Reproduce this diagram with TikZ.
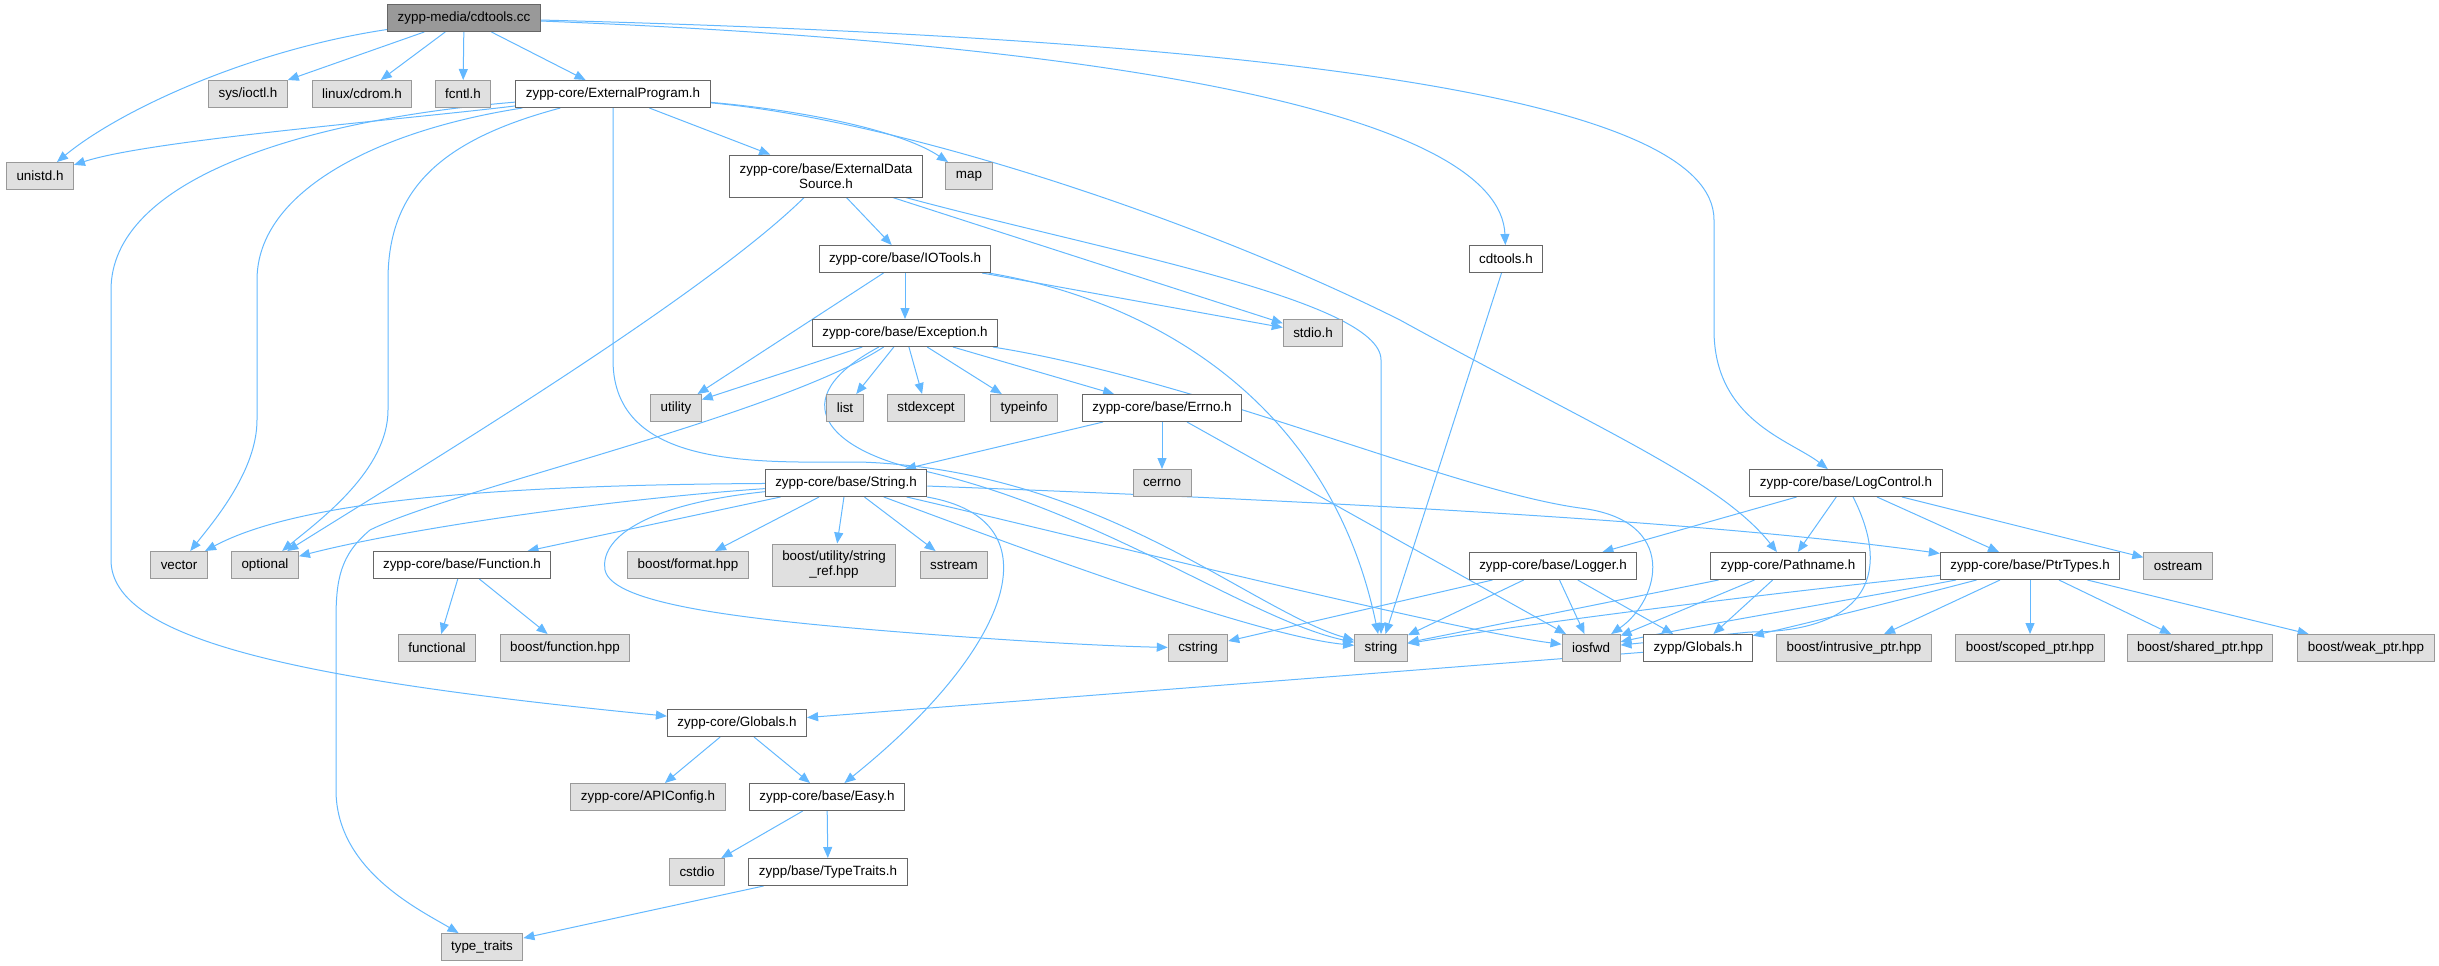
\documentclass[tikz,border=0pt]{standalone}
\usepackage{fontspec}
\setmainfont{Liberation Sans}
\usepackage{tikz}
\usetikzlibrary{arrows.meta,backgrounds}
\definecolor{linkblue}{HTML}{63B8FF}
\definecolor{rootbg}{HTML}{999999}
\definecolor{sysbg}{HTML}{E0E0E0}
\definecolor{sysline}{HTML}{999999}
\definecolor{fileline}{HTML}{666666}
\tikzset{
  box/.style={rectangle, line width=0.5pt, inner xsep=5pt, inner ysep=1pt,
    minimum height=13.5pt, align=center, font=\fontsize{6.7}{7.5}\selectfont},
  root/.style={box, fill=rootbg, draw=fileline},
  file/.style={box, fill=white, draw=fileline},
  sys/.style={box, fill=sysbg, draw=sysline},
  tall/.style={minimum height=21pt},
  dep/.style={draw=linkblue, line width=0.5pt, -{Triangle[length=5.5pt, width=4.5pt]}},
}

\begin{document}
\begin{tikzpicture}[x=0.5pt, y=-0.5pt]
  \useasboundingbox (0,0) rectangle (2439,965);

  % headers, row by row
  \node[root] (cc) at (464,18) {zypp-media/cdtools.cc};
  \node[sys] (ioctl) at (248,94) {sys/ioctl.h};
  \node[sys] (cdrom) at (362,94) {linux/cdrom.h};
  \node[sys] (fcntl) at (463,94) {fcntl.h};
  \node[file] (extprog) at (613,94) {zypp-core/ExternalProgram.h};
  \node[sys] (unistd) at (40,176) {unistd.h};
  \node[file,tall] (extdata) at (826,176) {zypp-core/base/ExternalData\\Source.h};
  \node[sys] (map) at (969,176) {map};
  \node[file] (iotools) at (905,259) {zypp-core/base/IOTools.h};
  \node[file] (cdtoolsh) at (1506,259) {cdtools.h};
  \node[file] (exception) at (905,333) {zypp-core/base/Exception.h};
  \node[sys] (stdio) at (1313,333) {stdio.h};
  \node[sys] (utility) at (676,408) {utility};
  \node[sys] (list) at (845,408) {list};
  \node[sys] (stdexcept) at (926,408) {stdexcept};
  \node[sys] (typeinfo) at (1024,408) {typeinfo};
  \node[file] (errno) at (1162,408) {zypp-core/base/Errno.h};
  \node[file] (stringh) at (846,483) {zypp-core/base/String.h};
  \node[sys] (cerrno) at (1162,483) {cerrno};
  \node[file] (logcontrol) at (1846,483) {zypp-core/base/LogControl.h};
  \node[sys] (vector) at (179,565) {vector};
  \node[sys] (optional) at (265,565) {optional};
  \node[file] (function) at (462,565) {zypp-core/base/Function.h};
  \node[sys] (format) at (688,565) {boost/format.hpp};
  \node[sys,tall] (stringref) at (834,565) {boost/utility/string\\\_ref.hpp};
  \node[sys] (sstream) at (954,565) {sstream};
  \node[file] (logger) at (1553,566) {zypp-core/base/Logger.h};
  \node[file] (pathname) at (1788,566) {zypp-core/Pathname.h};
  \node[file] (ptrtypes) at (2030,566) {zypp-core/base/PtrTypes.h};
  \node[sys] (ostream) at (2178,566) {ostream};
  \node[sys] (functional) at (437,648) {functional};
  \node[sys] (boostfunc) at (565,648) {boost/function.hpp};
  \node[sys] (cstring) at (1198,648) {cstring};
  \node[sys] (string) at (1381,648) {string};
  \node[sys] (iosfwd) at (1591,648) {iosfwd};
  \node[file] (zglobals) at (1698,648) {zypp/Globals.h};
  \node[sys] (intrusive) at (1854,648) {boost/intrusive\_ptr.hpp};
  \node[sys] (scoped) at (2030,648) {boost/scoped\_ptr.hpp};
  \node[sys] (shared) at (2200,648) {boost/shared\_ptr.hpp};
  \node[sys] (weak) at (2366,648) {boost/weak\_ptr.hpp};
  \node[file] (coreglobals) at (737,723) {zypp-core/Globals.h};
  \node[sys] (apiconfig) at (648,797) {zypp-core/APIConfig.h};
  \node[file] (easy) at (827,797) {zypp-core/base/Easy.h};
  \node[sys] (cstdio) at (697,872) {cstdio};
  \node[file] (typetraits) at (828,872) {zypp/base/TypeTraits.h};
  \node[sys] (typetr) at (482,947) {type\_traits};

  \begin{scope}[on background layer]
  % cdtools.cc
  \draw[dep] (cc) .. controls (250,50) and (120,110) .. (unistd);
  \draw[dep] (cc) -- (ioctl);
  \draw[dep] (cc) -- (cdrom);
  \draw[dep] (cc) -- (fcntl);
  \draw[dep] (cc) -- (extprog);
  \draw[dep] (cc) .. controls (1150,45) and (1500,120) .. (cdtoolsh);
  \draw[dep] (cc) .. controls (1300,40) and (1714,100) .. (1714,220) -- (1714,330)
    .. controls (1714,420) and (1790,440) .. (logcontrol);

  % ExternalProgram.h
  \draw[dep] (extprog) .. controls (400,120) and (150,140) .. (unistd);
  \draw[dep] (extprog) .. controls (300,120) and (111,180) .. (111,290) -- (111,560)
    .. controls (111,640) and (300,680) .. (coreglobals);
  \draw[dep] (extprog) .. controls (380,130) and (257,190) .. (257,280) -- (257,420)
    .. controls (257,470) and (215,520) .. (vector);
  \draw[dep] (extprog) .. controls (440,140) and (388,190) .. (388,280) -- (388,410)
    .. controls (388,470) and (320,520) .. (optional);
  \draw[dep] (extprog) -- (613,360) .. controls (613,470) and (760,462) .. (860,462)
    .. controls (1100,470) and (1250,610) .. (string);
  \draw[dep] (extprog) .. controls (800,110) and (900,130) .. (map);
  \draw[dep] (extprog) -- (extdata);
  \draw[dep] (extprog) .. controls (900,120) and (1200,220) .. (1400,320)
    .. controls (1600,430) and (1720,480) .. (pathname);

  % ExternalDataSource.h and IOTools.h
  \draw[dep] (extdata) .. controls (700,300) and (400,480) .. (optional);
  \draw[dep] (extdata) -- (iotools);
  \draw[dep] (extdata) -- (stdio);
  \draw[dep] (extdata) .. controls (1100,250) and (1381,300) .. (1381,360) -- (string);
  \draw[dep] (iotools) -- (utility);
  \draw[dep] (iotools) -- (exception);
  \draw[dep] (iotools) -- (stdio);
  \draw[dep] (iotools) .. controls (1150,300) and (1330,400) .. (string);
  \draw[dep] (cdtoolsh) -- (string);

  % Exception.h and Errno.h
  \draw[dep] (exception) -- (utility);
  \draw[dep] (exception) -- (list);
  \draw[dep] (exception) -- (stdexcept);
  \draw[dep] (exception) -- (typeinfo);
  \draw[dep] (exception) -- (errno);
  \draw[dep] (exception) .. controls (1200,380) and (1450,490) .. (1580,508)
    .. controls (1680,520) and (1660,600) .. (iosfwd);
  \draw[dep] (exception) .. controls (780,415) and (450,490) .. (370,530)
    .. controls (340,555) and (336,580) .. (336,620) -- (336,790)
    .. controls (336,870) and (420,910) .. (typetr);
  \draw[dep] (exception) .. controls (780,400) and (830,450) .. (920,470)
    .. controls (1100,510) and (1250,620) .. (string);
  \draw[dep] (errno) -- (cerrno);
  \draw[dep] (errno) -- (stringh);
  \draw[dep] (errno) -- (iosfwd);

  % String.h
  \draw[dep] (stringh) .. controls (500,485) and (300,500) .. (vector);
  \draw[dep] (stringh) .. controls (600,500) and (400,530) .. (optional);
  \draw[dep] (stringh) -- (function);
  \draw[dep] (stringh) -- (format);
  \draw[dep] (stringh) -- (stringref);
  \draw[dep] (stringh) -- (sstream);
  \draw[dep] (stringh) .. controls (640,505) and (600,540) .. (605,570)
    .. controls (612,605) and (750,620) .. (900,632)
    .. controls (1000,640) and (1100,646) .. (cstring);
  \draw[dep] (stringh) .. controls (1000,540) and (1250,635) .. (string);
  \draw[dep] (stringh) .. controls (1050,530) and (1450,630) .. (iosfwd);
  \draw[dep] (stringh) .. controls (1300,500) and (1700,520) .. (ptrtypes);
  \draw[dep] (stringh) .. controls (1060,520) and (1010,650) .. (easy);

  % LogControl.h
  \draw[dep] (logcontrol) -- (logger);
  \draw[dep] (logcontrol) -- (pathname);
  \draw[dep] (logcontrol) .. controls (1895,580) and (1860,632) .. (1750,632) -- (iosfwd);
  \draw[dep] (logcontrol) -- (ptrtypes);
  \draw[dep] (logcontrol) -- (ostream);

  % Logger.h, Pathname.h, PtrTypes.h
  \draw[dep] (logger) -- (cstring);
  \draw[dep] (logger) -- (string);
  \draw[dep] (logger) -- (iosfwd);
  \draw[dep] (logger) -- (zglobals);
  \draw[dep] (pathname) -- (string);
  \draw[dep] (pathname) -- (iosfwd);
  \draw[dep] (pathname) -- (zglobals);
  \draw[dep] (ptrtypes) .. controls (1800,590) and (1550,620) .. (string);
  \draw[dep] (ptrtypes) .. controls (1850,600) and (1700,625) .. (iosfwd);
  \draw[dep] (ptrtypes) .. controls (1900,600) and (1800,625) .. (zglobals);
  \draw[dep] (ptrtypes) -- (intrusive);
  \draw[dep] (ptrtypes) -- (scoped);
  \draw[dep] (ptrtypes) -- (shared);
  \draw[dep] (ptrtypes) -- (weak);

  % lower part
  \draw[dep] (function) -- (functional);
  \draw[dep] (function) -- (boostfunc);
  \draw[dep] (zglobals) -- (coreglobals);
  \draw[dep] (coreglobals) -- (apiconfig);
  \draw[dep] (coreglobals) -- (easy);
  \draw[dep] (easy) -- (cstdio);
  \draw[dep] (easy) -- (typetraits);
  \draw[dep] (typetraits) -- (typetr);
  \end{scope}
\end{tikzpicture}
\end{document}
